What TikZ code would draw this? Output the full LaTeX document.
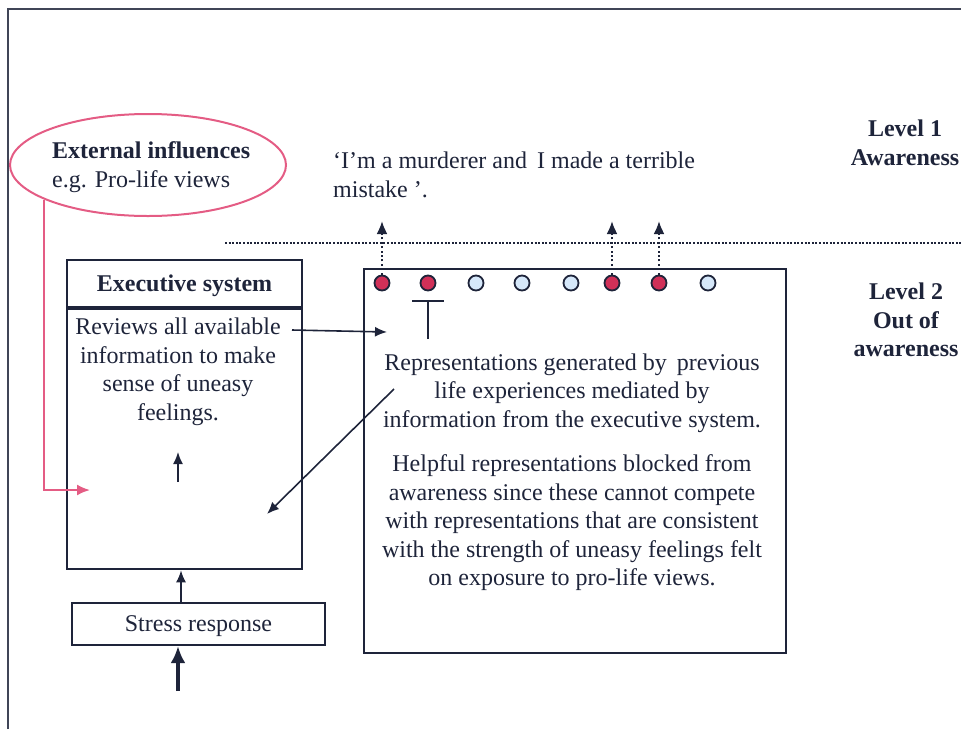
\documentclass[tikz,border=0pt]{standalone}
\usepackage{fontspec}
\setmainfont{Liberation Serif}
\usetikzlibrary{arrows.meta, positioning, shapes.geometric}
\definecolor{ink}{RGB}{30,36,58}
\definecolor{lifepink}{RGB}{228,92,132}
\definecolor{hotred}{RGB}{208,48,88}
\definecolor{coldblue}{RGB}{214,232,250}

\tikzset{
  txt/.style={font=\fontsize{24}{28.5}\selectfont, text=ink, align=center, inner sep=0pt},
  boldtxt/.style={txt, font=\fontsize{24}{28.5}\selectfont\bfseries},
  box/.style={draw=ink, line width=2.2pt, inner sep=0pt},
  rep/.style={circle, draw=ink, line width=1.8pt, minimum size=15pt, inner sep=0pt},
  hot/.style={rep, fill=hotred},
  cold/.style={rep, fill=coldblue},
  link/.style={draw=ink, line width=1.6pt, -{Latex[length=12pt,width=10pt]}},
}

\begin{document}
\begin{tikzpicture}[x=1pt,y=-1pt]
        \useasboundingbox (0,0) rectangle (961,729);

        % Khung ngoai
        \draw[ink!85, line width=2pt] (8,729) -- (8,9) -- (961,9);

        % Anh huong ben ngoai
        \node[ellipse, draw=lifepink, line width=2pt, minimum width=276pt, minimum height=102pt] (ext) at (148,165) {};
        \node[txt, align=left, anchor=west] (extlbl) at (52,167) {\textbf{External influences}\\e.g. Pro-life views};

        % Cau noi trong nhan thuc
        \node[txt, align=left, anchor=west] (quote) at (333,175) {`I'm a murderer and\, I made a terrible\\mistake '.};

        % Cac muc
        \node[boldtxt] (lvlone) at (905,143) {Level 1\\Awareness};
        \node[boldtxt] (lvltwo) at (906,320) {Level 2\\Out of\\awareness};
        \draw[ink, line width=2.2pt, dash pattern=on 2pt off 1.6pt] (225,243) -- (961,243); % duong ranh gioi

        % He dieu hanh
        \node[box, minimum width=235pt, minimum height=47pt] (exechead) at (184.5,283.5) {};
        \node[boldtxt] at ([yshift=-2pt]exechead) {Executive system};
        \node[box, minimum width=235pt, minimum height=260pt, anchor=north] (exec) at (exechead.south) {};
        \node[txt] (reviews) at (178,372) {Reviews all available\\information to make\\sense of uneasy\\feelings.};

        % Khung bieu dien
        \node[box, minimum width=422pt, minimum height=384pt, anchor=north west] (repr) at (363,268) {};
        \node[txt] (genby) at (572,393) {Representations generated by\, previous\\life experiences mediated by\\information from the executive system.};
        \node[txt] (blocked) at (572,523) {Helpful representations blocked from\\awareness since these cannot compete\\with representations that are consistent\\with the strength of uneasy feelings felt\\on exposure to pro-life views.};

        % Cac bieu dien
        \foreach \x/\s [count=\i] in {382/hot,428/hot,476/cold,522/cold,571/cold,612/hot,659/hot,708/cold}
            \node[\s] (c\i) at (\x,283) {};
        \foreach \i in {1,6,7} {
            \coordinate (up\i) at (c\i |- 0,221);
            \draw[ink, line width=2.2pt, dash pattern=on 2pt off 2.4pt, -{Latex[length=13pt,width=11pt]}] (c\i.north) -- (up\i);
        }
        \coordinate (blk) at (c2 |- 0,339);
        \draw[ink, line width=1.6pt, -{Bar[width=32pt,line width=2pt]}] (blk) -- (c2 |- 0,300); % bi chan

        % Stress
        \node[box, minimum width=253pt, minimum height=42pt] (stress) at (198.5,624) {};
        \node[txt] at ([yshift=-2pt]stress) {Stress response};
        \coordinate (src) at (178,691);
        \draw[ink, line width=3.4pt, -{Latex[length=17pt,width=15pt]}] (src) -- (stress.south -| src);
        \draw[link] (stress.north -| 181,0) -- (exec.south -| 181,0);

        % Mui ten
        \coordinate (rvout) at (292,330);
        \coordinate (rpin) at (387,332);
        \draw[link] (rvout) -- (rpin);
        \coordinate (dgfrom) at (394,389);
        \coordinate (dgto) at (267,514);
        \draw[link] (dgfrom) -- (dgto);
        \coordinate (upfrom) at (178,482);
        \coordinate (upto) at (178,452);
        \draw[link] (upfrom) -- (upto);
        \coordinate (pinkfrom) at (44,200);
        \coordinate (pinkto) at (90,490);
        \draw[lifepink, line width=2pt, -{Latex[length=13pt,width=11pt]}] (pinkfrom) |- (pinkto);

\end{tikzpicture}
\end{document}
